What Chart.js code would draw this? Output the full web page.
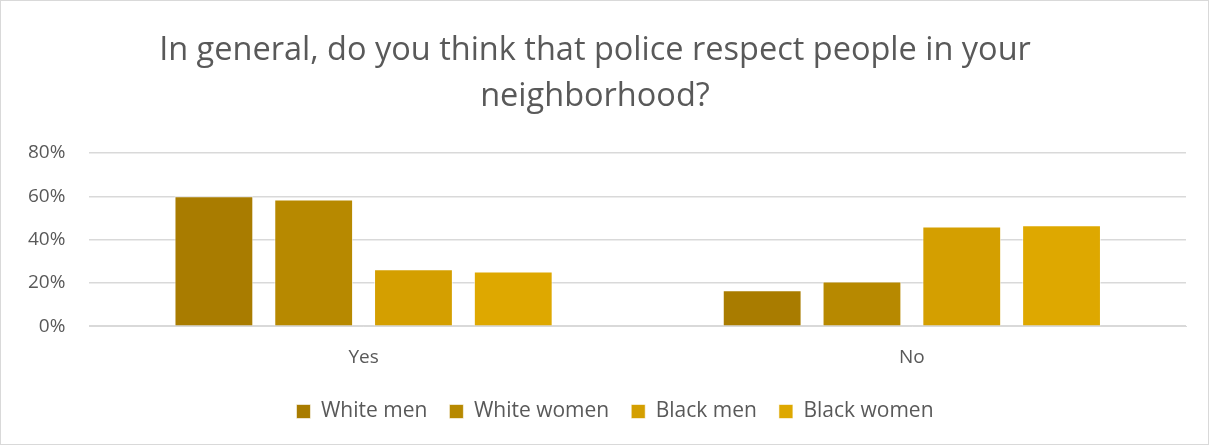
<!DOCTYPE html>
<html>
<head>
<meta charset="utf-8">
<script src="https://cdn.jsdelivr.net/npm/chart.js@4"></script>
<style>
  html, body { margin: 0; padding: 0; background: #fff; }
  #wrap { position: relative; width: 1207px; height: 443px; border: 1px solid #d9d9d9; }
</style>
</head>
<body>
<div id="wrap"><canvas id="myChart"></canvas></div>
<script>
const categories = ['Yes', 'No'];
const seriesNames = ['White men', 'White women', 'Black men', 'Black women'];
const whiteMen = [0.60, 0.166];
const whiteWomen = [0.585, 0.207];
const blackMen = [0.263, 0.46];
const blackWomen = [0.253, 0.466];
const colors = ['#a97c00', '#b78900', '#d49f00', '#dea800'];
const yTicks = [0, 0.2, 0.4, 0.6, 0.8];

const allSeries = [whiteMen, whiteWomen, blackMen, blackWomen];
const textColor = '#595959';
const font = "'Open Sans', sans-serif";

const data = {
  labels: categories,
  datasets: allSeries.map((vals, i) => ({
    label: seriesNames[i],
    data: vals,
    backgroundColor: colors[i],
    borderColor: 'rgba(255,255,255,0.6)',
    borderWidth: 1,
    categoryPercentage: 0.728,
    barPercentage: 0.79
  }))
};

// the legend in the original sits a little right of centre
const legendShift = {
  id: 'legendShift',
  afterLayout(chart) {
    chart.legend.left += 20;
    chart.legend.right += 20;
  }
};

const config = {
  type: 'bar',
  data: data,
  plugins: [legendShift],
  options: {
    responsive: true,
    maintainAspectRatio: false,
    animation: false,
    layout: { padding: { left: 3, right: 22, top: 0, bottom: 12 } },
    plugins: {
      title: {
        display: true,
        text: ['In general, do you think that police respect people in your', 'neighborhood?'],
        color: textColor,
        font: { family: font, size: 32.5, weight: 'normal', lineHeight: 1.4 },
        padding: { top: 27, bottom: 34 }
      },
      legend: {
        position: 'bottom',
        labels: {
          color: textColor,
          font: { family: font, size: 21 },
          boxWidth: 14,
          boxHeight: 14,
          padding: 22
        }
      },
      tooltip: { enabled: false }
    },
    scales: {
      x: {
        grid: { display: false, drawTicks: false },
        border: { display: true, color: '#d9d9d9' },
        ticks: { color: textColor, font: { family: font, size: 19 }, padding: 20 },
        afterFit: s => { s.height -= 10; }
      },
      y: {
        min: 0,
        max: 0.8,
        afterBuildTicks: axis => { axis.ticks = yTicks.map(v => ({ value: v })); },
        grid: { color: '#d9d9d9', lineWidth: 1.5, drawTicks: false },
        border: { display: false },
        ticks: {
          color: textColor,
          font: { family: font, size: 19 },
          padding: 24,
          callback: v => Math.round(v * 100) + '%'
        }
      }
    }
  }
};

const myChart = new Chart(document.getElementById('myChart'), config);
</script>
</body>
</html>
